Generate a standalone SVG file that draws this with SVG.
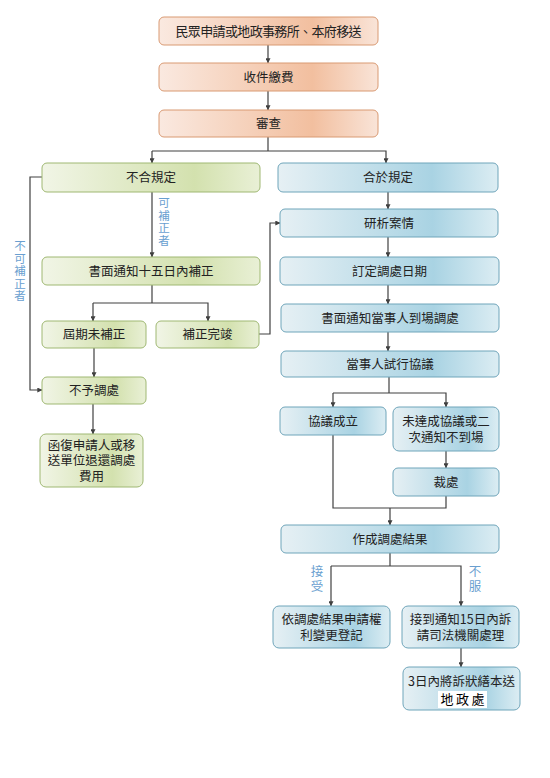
<svg xmlns="http://www.w3.org/2000/svg" width="550" height="778" viewBox="0 0 550 778">
<defs>
<linearGradient id="gO" x1="0" y1="0" x2="1" y2="0">
<stop offset="0" stop-color="#fae9e0"/><stop offset="0.7" stop-color="#f2bf9f"/><stop offset="1" stop-color="#f9e4d8"/>
</linearGradient>
<linearGradient id="gG" x1="0" y1="0" x2="1" y2="0">
<stop offset="0" stop-color="#f1f5e6"/><stop offset="0.7" stop-color="#d3e1ae"/><stop offset="1" stop-color="#e9f0d6"/>
</linearGradient>
<linearGradient id="gB" x1="0" y1="0" x2="1" y2="0">
<stop offset="0" stop-color="#e6f0f4"/><stop offset="0.7" stop-color="#a9d3e3"/><stop offset="1" stop-color="#dcedf3"/>
</linearGradient>
<marker id="ar" viewBox="0 0 8 8" refX="7.5" refY="4" markerWidth="5" markerHeight="5" orient="auto" markerUnits="userSpaceOnUse">
<path d="M0,0 L8,4 L0,8 z" fill="#404040"/>
</marker>
</defs>
<style>
.o{fill:url(#gO);stroke:#d99a73;stroke-width:1}
.g{fill:url(#gG);stroke:#9fb872;stroke-width:1}
.b{fill:url(#gB);stroke:#6fa5ba;stroke-width:1}
text{font-family:"Noto Sans CJK TC","Noto Sans CJK SC",sans-serif;font-size:12.5px;fill:#222;text-anchor:middle}
.lbl{fill:#6a9fd0;font-size:11.5px;writing-mode:vertical-rl;text-anchor:start;letter-spacing:1px}
.lbl2{font-size:12.5px;letter-spacing:2.5px}
.c path,.c line{fill:none;stroke:#404040;stroke-width:1.2}
.a{marker-end:url(#ar)}
</style>
<rect width="550" height="778" fill="#fff"/>

<g class="c" id="connectors">
<line class="a" x1="268" y1="45" x2="268" y2="63"/>
<line class="a" x1="268" y1="91" x2="268" y2="110"/>
<path d="M268,137 V151"/>
<path class="a" d="M152,151 H386 V163"/>
<path class="a" d="M152,151 V163"/>
<line class="a" x1="152" y1="192" x2="152" y2="257"/>
<path class="a" d="M42,177 H30 V390 H42"/>
<path d="M152,285 V303"/>
<path class="a" d="M93,303 H208 V321"/>
<path class="a" d="M93,303 V321"/>
<line class="a" x1="94" y1="348" x2="94" y2="377"/>
<line class="a" x1="93" y1="404" x2="93" y2="434"/>
<path class="a" d="M259,334 H270 V223 H280"/>
<line class="a" x1="388" y1="192" x2="388" y2="209"/>
<line class="a" x1="388" y1="237" x2="388" y2="257"/>
<line class="a" x1="388" y1="285" x2="388" y2="304"/>
<line class="a" x1="388" y1="332" x2="388" y2="351"/>
<path d="M389,377 V393"/>
<path class="a" d="M333,393 H446 V407"/>
<path class="a" d="M333,393 V407"/>
<line class="a" x1="446" y1="451" x2="446" y2="468"/>
<path d="M333,435 V508 H446 V496"/>
<line class="a" x1="390" y1="508" x2="390" y2="525"/>
<path d="M390,553 V566"/>
<path class="a" d="M331,566 H461 V606"/>
<path class="a" d="M331,566 V606"/>
<line class="a" x1="461" y1="648" x2="461" y2="667"/>
</g>

<g id="labels">
<text class="lbl" x="20" y="240">不可補正者</text>
<text class="lbl" x="164" y="197">可補正者</text>
<text class="lbl lbl2" x="317" y="565">接受</text>
<text class="lbl lbl2" x="475" y="565">不服</text>
</g>

<g id="n1"><rect class="o" x="159" y="17" width="219" height="28" rx="5"/><text x="268.5" y="35.5" style="font-size:13px" textLength="186" lengthAdjust="spacing">民眾申請或地政事務所、本府移送</text></g>
<g id="n2"><rect class="o" x="159" y="63" width="219" height="28" rx="5"/><text x="268.5" y="81.5">收件繳費</text></g>
<g id="n3"><rect class="o" x="159" y="110" width="219" height="27" rx="5"/><text x="268.5" y="128">審查</text></g>

<g id="n4"><rect class="g" x="42" y="163" width="218" height="29" rx="5"/><text x="151" y="182">不合規定</text></g>
<g id="n5"><rect class="g" x="42" y="257" width="218" height="28" rx="5"/><text x="151" y="275.5">書面通知十五日內補正</text></g>
<g id="n6"><rect class="g" x="42" y="321" width="104" height="27" rx="5"/><text x="94" y="339">屆期未補正</text></g>
<g id="n7"><rect class="g" x="156" y="321" width="103" height="27" rx="5"/><text x="207.5" y="339">補正完竣</text></g>
<g id="n8"><rect class="g" x="42" y="377" width="104" height="27" rx="5"/><text x="94" y="395">不予調處</text></g>
<g id="n9"><rect class="g" x="40" y="434" width="103" height="53" rx="6"/><text x="91.5" y="449.5">函復申請人或移<tspan x="91.5" dy="15.5">送單位退還調處</tspan><tspan x="91.5" dy="15.5">費用</tspan></text></g>

<g id="n10"><rect class="b" x="278" y="163" width="220" height="29" rx="5"/><text x="388" y="182">合於規定</text></g>
<g id="n11"><rect class="b" x="280" y="209" width="218" height="28" rx="5"/><text x="389" y="227.5">研析案情</text></g>
<g id="n12"><rect class="b" x="280" y="257" width="219" height="28" rx="5"/><text x="389.5" y="275.5">訂定調處日期</text></g>
<g id="n13"><rect class="b" x="281" y="304" width="218" height="28" rx="5"/><text x="390" y="322.5">書面通知當事人到場調處</text></g>
<g id="n14"><rect class="b" x="281" y="351" width="218" height="26" rx="5"/><text x="390" y="368.5">當事人試行協議</text></g>
<g id="n15"><rect class="b" x="280" y="407" width="106" height="28" rx="5"/><text x="333" y="425.5">協議成立</text></g>
<g id="n16"><rect class="b" x="393" y="407" width="106" height="44" rx="6"/><text x="446" y="425.5">未達成協議或二<tspan x="446" dy="16">次通知不到場</tspan></text></g>
<g id="n17"><rect class="b" x="393" y="468" width="106" height="28" rx="5"/><text x="446" y="486.5">裁處</text></g>
<g id="n18"><rect class="b" x="281" y="525" width="218" height="28" rx="5"/><text x="390" y="543.5">作成調處結果</text></g>
<g id="n19"><rect class="b" x="273" y="606" width="117" height="42" rx="6"/><text x="331.5" y="623.5">依調處結果申請權<tspan x="331.5" dy="16">利變更登記</tspan></text></g>
<g id="n20"><rect class="b" x="402" y="606" width="117" height="42" rx="6"/><text x="460.5" y="623.5">接到通知15日內訴<tspan x="460.5" dy="16">請司法機關處理</tspan></text></g>
<g id="n21"><rect class="b" x="403" y="667" width="117" height="43" rx="6"/><text x="461.5" y="686">3日內將訴狀繕本送</text><rect x="438" y="691" width="49" height="17" fill="#fff"/><text x="462.5" y="704" style="font-size:13px;fill:#000" textLength="44" lengthAdjust="spacing">地政處</text></g>
</svg>
